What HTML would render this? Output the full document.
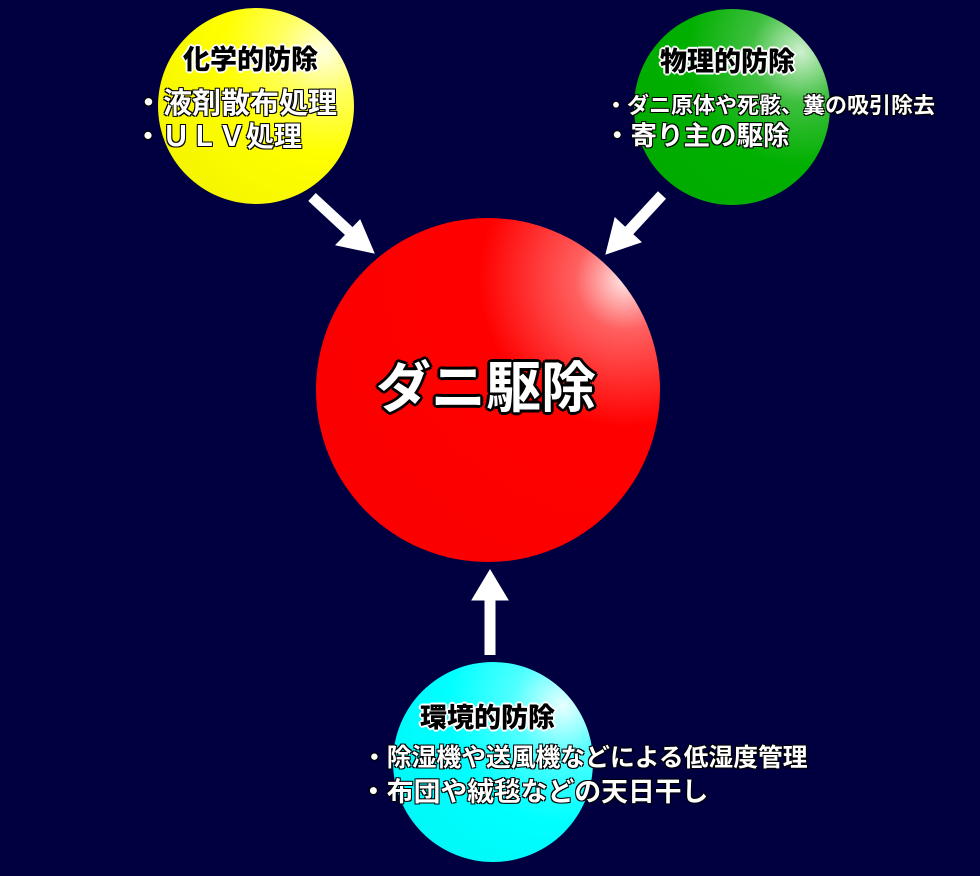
<!DOCTYPE html>
<html><head><meta charset="utf-8"><style>
body{margin:0;width:980px;height:876px;background:#000040;position:relative;overflow:hidden;font-family:"Liberation Sans","Noto Sans CJK JP",sans-serif;font-weight:bold}
.c{position:absolute;border-radius:50%}
.t{position:absolute;white-space:nowrap;line-height:1}
.h{color:#000;font-size:27px;font-weight:900;text-shadow:0 0 2px #fff,1px 1px 0 #fff,-1px -1px 0 #fff,1px -1px 0 #fff,-1px 1px 0 #fff,2px 0 0 #fff,-2px 0 0 #fff,0 2px 0 #fff,0 -2px 0 #fff}
.i{color:#fff;text-shadow:1px 1px 0 #000,-1px -1px 0 #000,1px -1px 0 #000,-1px 1px 0 #000}
</style></head><body>
<div class="c" style="left:158px;top:8px;width:196px;height:196px;background:radial-gradient(circle at 85% 22%,#ffffe0 0%,#ffff60 20%,#ffff00 45%,#f0f000 100%)"></div>
<div class="c" style="left:634px;top:9px;width:196px;height:196px;background:radial-gradient(circle at 85% 22%,#d0f0d0 0%,#40c040 22%,#00b000 50%,#00a800 100%)"></div>
<div class="c" style="left:316px;top:218px;width:344px;height:344px;background:radial-gradient(circle at 90% 18%,#ffe8e8 0%,#ff6060 12%,#ff0000 35%,#f80000 100%)"></div>
<div class="c" style="left:393px;top:662px;width:200px;height:200px;background:radial-gradient(circle at 85% 22%,#e8ffff 0%,#50ffff 22%,#00ffff 50%,#00f4f4 100%)"></div>
<svg width="980" height="876" style="position:absolute;left:0;top:0">
<g fill="#fff" stroke="#fff">
<line x1="312" y1="197" x2="352" y2="234" stroke-width="11"/>
<polygon points="374,253 336,245 360,220" stroke-width="1"/>
<line x1="662" y1="195" x2="626" y2="234" stroke-width="11"/>
<polygon points="606,254 615,218 641,242" stroke-width="1"/>
<line x1="490" y1="655" x2="490" y2="596" stroke-width="11"/>
<polygon points="490,570 472,600 508,600" stroke-width="1"/>
</g></svg>
<div class="t h" style="left:183px;top:47px">化学的防除</div>
<div class="t i" style="left:134px;top:90px;font-size:29px">・液剤散布処理</div>
<div class="t i" style="left:134px;top:123px;font-size:28px">・ＵＬＶ処理</div>
<div class="t h" style="left:660px;top:49px">物理的防除</div>
<div class="t i" style="left:605px;top:95px;font-size:22px">・ダニ原体や死骸、糞の吸引除去</div>
<div class="t i" style="left:604px;top:123px;font-size:26.5px">・寄り主の駆除</div>
<div class="t" style="left:376px;top:361px;font-size:55px;color:#fff;text-shadow:0 0 3px #000,2px 2px 0 #000,-2px -2px 0 #000,2px -2px 0 #000,-2px 2px 0 #000,3px 0 0 #000,-3px 0 0 #000,0 3px 0 #000,0 -3px 0 #000">ダニ駆除</div>
<div class="t h" style="left:420px;top:705px">環境的防除</div>
<div class="t i" style="left:362px;top:747px;font-size:24.8px">・除湿機や送風機などによる低湿度管理</div>
<div class="t i" style="left:360px;top:779px;font-size:26.8px">・布団や絨毯などの天日干し</div>
</body></html>
